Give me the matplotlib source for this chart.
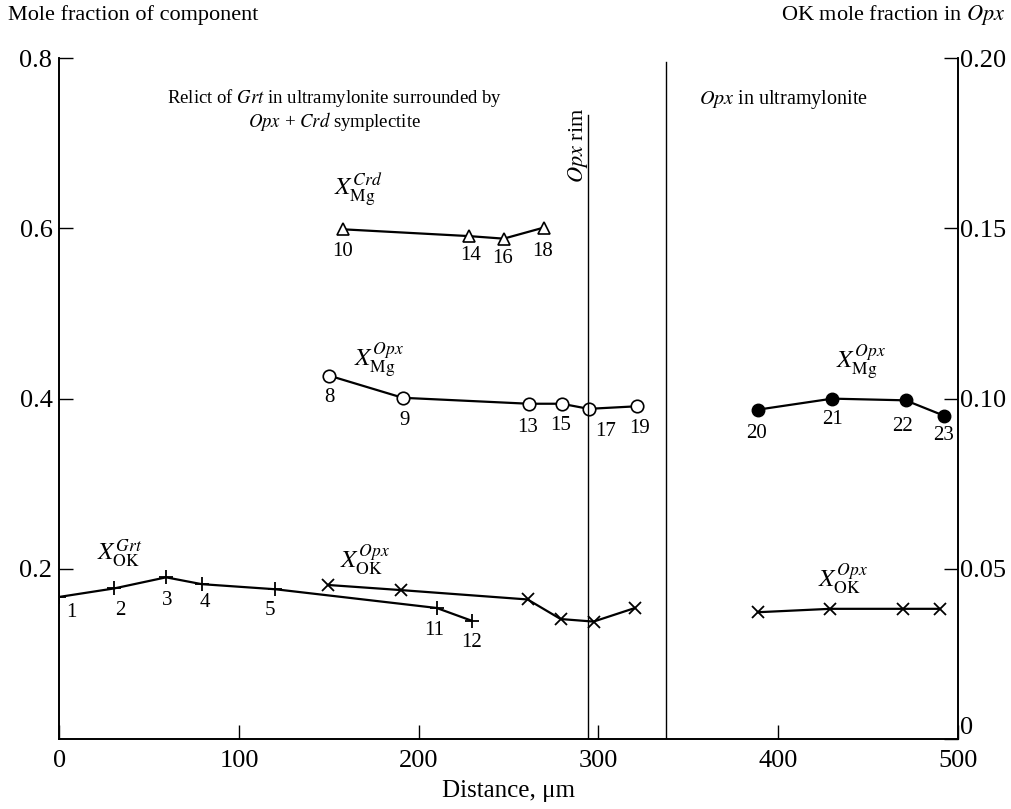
"""
Mole fraction profile across a Grt relict and Opx in ultramylonite.
"""
import matplotlib
matplotlib.use("Agg")
import matplotlib.pyplot as plt

plt.rcParams["font.family"] = ["Liberation Serif", "DejaVu Serif"]
plt.rcParams["mathtext.fontset"] = "stix"

# X_OK in Grt (points 1-5, 11, 12)
grt_ok_x = [0, 30.6, 59.4, 79.2, 120.2, 210, 229.5]
grt_ok_y = [0.167, 0.177, 0.190, 0.182, 0.176, 0.154, 0.139]
grt_ok_lab = ["1", "2", "3", "4", "5", "11", "12"]

# X_OK in Opx, symplectite part
opx_ok_x = [149.7, 190.2, 260.6, 279, 297.3, 320.4]
opx_ok_y = [0.181, 0.175, 0.164, 0.141, 0.138, 0.154]

# X_OK in Opx, ultramylonite
opx2_ok_x = [388.8, 429, 469.5, 490]
opx2_ok_y = [0.149, 0.153, 0.153, 0.153]

# X_Mg in Crd
crd_mg_x = [157.7, 228, 247.3, 269.6]
crd_mg_y = [0.599, 0.591, 0.588, 0.601]
crd_mg_lab = ["10", "14", "16", "18"]

# X_Mg in Opx, symplectite part
opx_mg_x = [150.2, 191.1, 261.2, 279.6, 294.6, 321.3]
opx_mg_y = [0.427, 0.401, 0.394, 0.394, 0.388, 0.391]
opx_mg_lab = ["8", "9", "13", "15", "17", "19"]

# X_Mg in Opx, ultramylonite
opx2_mg_x = [388.6, 430.2, 471, 492.3]
opx2_mg_y = [0.387, 0.400, 0.398, 0.380]
opx2_mg_lab = ["20", "21", "22", "23"]

left_ticks = [0.2, 0.4, 0.6, 0.8]
right_ticks = [0, 0.05, 0.10, 0.15, 0.20]
right_tick_labels = ["0", "0.05", "0.10", "0.15", "0.20"]
x_ticks = [0, 100, 200, 300, 400, 500]

fig = plt.figure(figsize=(10.11, 8.09), dpi=100)
ax = fig.add_axes([0.0587, 0.0865, 0.8886, 0.8415])
ax.set_xlim(0, 500)
ax.set_ylim(0, 0.8)

lw = 1.6
ax.plot(grt_ok_x, grt_ok_y, color="black", lw=lw, marker="+", ms=10, mew=1.3)
ax.plot(opx_ok_x, opx_ok_y, color="black", lw=lw, marker="x", ms=8, mew=1.3)
ax.plot(opx2_ok_x, opx2_ok_y, color="black", lw=lw, marker="x", ms=8, mew=1.3)
ax.plot(crd_mg_x, crd_mg_y, color="black", lw=lw, marker="^", ms=8,
        mfc="white", mec="black", mew=1.2)
ax.plot(opx_mg_x, opx_mg_y, color="black", lw=lw, marker="o", ms=9,
        mfc="white", mec="black", mew=1.2)
ax.plot(opx2_mg_x, opx2_mg_y, color="black", lw=lw, marker="o", ms=9,
        mfc="black", mec="black")

# point number labels, offsets in points
def label_points(xs, ys, labs, offs):
    for x, y, t, (dx, dy) in zip(xs, ys, labs, offs):
        ax.annotate(t, (x, y), xytext=(dx, dy), textcoords="offset points",
                    ha="center", va="center", fontsize=15)

label_points(grt_ok_x, grt_ok_y, grt_ok_lab,
             [(9, -11), (4, -16), (1, -17), (2, -13), (-4, -15), (-2, -16), (0, -16)])
label_points(crd_mg_x, crd_mg_y, crd_mg_lab,
             [(0, -16), (1, -14), (-1, -14), (-1, -17)])
label_points(opx_mg_x, opx_mg_y, opx_mg_lab,
             [(0, -16), (1, -16), (-1, -17), (-1, -16), (12, -16), (2, -16)])
label_points(opx2_mg_x, opx2_mg_y, opx2_mg_lab,
             [(-1, -17), (0, -15), (-2, -19), (0, -14)])

# series labels
fs = 18
ax.text(153, 0.645, r"$X_{\mathrm{Mg}}^{Crd}$", fontsize=fs, ha="left", va="center")
ax.text(164, 0.445, r"$X_{\mathrm{Mg}}^{Opx}$", fontsize=fs, ha="left", va="center")
ax.text(432, 0.442, r"$X_{\mathrm{Mg}}^{Opx}$", fontsize=fs, ha="left", va="center")
ax.text(21, 0.218, r"$X_{\mathrm{OK}}^{Grt}$", fontsize=fs, ha="left", va="center")
ax.text(156, 0.210, r"$X_{\mathrm{OK}}^{Opx}$", fontsize=fs, ha="left", va="center")
ax.text(422, 0.188, r"$X_{\mathrm{OK}}^{Opx}$", fontsize=fs, ha="left", va="center")

# boundaries
ax.plot([294.2, 294.2], [0, 0.733], color="black", lw=1)
ax.plot([337.4, 337.4], [0, 0.796], color="black", lw=1)

ax.text(153, 0.753, r"Relict of $\mathit{Grt}$ in ultramylonite surrounded by",
        fontsize=13.5, ha="center", va="center")
ax.text(153, 0.726, r"$\mathit{Opx}$ + $\mathit{Crd}$ symplectite",
        fontsize=13.5, ha="center", va="center")
ax.text(356, 0.752, r"$\mathit{Opx}$ in ultramylonite",
        fontsize=14.5, ha="left", va="center")
ax.text(288.6, 0.698, r"$\mathit{Opx}$ rim", fontsize=16, rotation=90,
        ha="center", va="center")

ax.spines["top"].set_visible(False)
ax.set_xticks(x_ticks)
ax.set_xticklabels([str(t) for t in x_ticks])
ax.set_yticks(left_ticks)
ax.set_yticklabels([f"{t:.1f}" for t in left_ticks])
ax.tick_params(direction="in", length=10, width=1, labelsize=19, pad=5)
ax.tick_params(axis="x", pad=8)
ax.set_xlabel("Distance, μm", fontsize=18, labelpad=6)

ax2 = ax.twinx()
ax2.set_ylim(0, 0.2)
ax2.set_yticks(right_ticks)
ax2.set_yticklabels(right_tick_labels)
ax2.spines["top"].set_visible(False)
ax2.tick_params(direction="in", length=10, width=1, labelsize=19, pad=2)
# lift the right-hand zero a little so it clears the 500 label
ax2.get_yticklabels()[0].set_va("bottom")

for a in (ax, ax2):
    for s in a.spines.values():
        s.set_linewidth(1.2)

fig.text(0.008, 0.982, "Mole fraction of component", fontsize=16,
         ha="left", va="center")
fig.text(0.995, 0.982, r"OK mole fraction in $\mathit{Opx}$", fontsize=16,
         ha="right", va="center")

fig.savefig("out.png", dpi=100)
